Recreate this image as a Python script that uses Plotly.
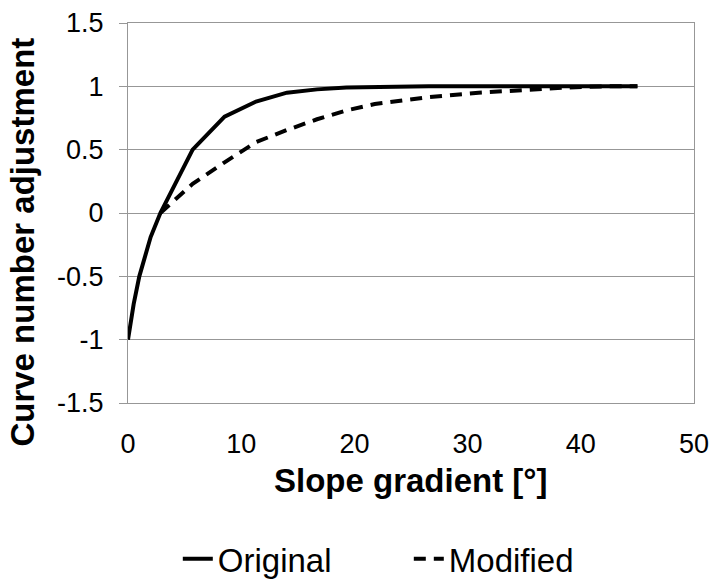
import plotly.graph_objects as go

# Data
orig_x = [0, 0.5, 1.0, 1.5, 2.0, 2.86, 5.71, 8.53, 11.31, 14.04, 16.7, 19.29, 21.8, 26.57, 30.96, 34.99, 38.66, 41.99, 45.0]
orig_y = [-1.0, -0.72, -0.5, -0.33, -0.19, 0.0, 0.5, 0.76, 0.88, 0.95, 0.976, 0.99, 0.995, 1.0, 1.0, 1.0, 1.0, 1.0, 1.0]

mod_x = [2.86, 5.71, 8.53, 11.31, 14.04, 16.7, 19.29, 21.8, 26.57, 30.96, 34.99, 38.66, 41.99, 45.0]
mod_y = [0.0, 0.23, 0.40, 0.56, 0.655, 0.74, 0.81, 0.86, 0.915, 0.95, 0.97, 0.99, 1.0, 1.0]

y_ticks = [1.5, 1, 0.5, 0, -0.5, -1, -1.5]
y_ticktext = ["1.5", "1", "0.5", "0", "-0.5", "-1", "-1.5"]
x_ticks = [0, 10, 20, 30, 40, 50]
x_ticktext = ["0", "10", "20", "30", "40", "50"]

FONT = "Liberation Sans, Arial, sans-serif"
GRID = "#979797"

fig = go.Figure()
fig.add_trace(go.Scatter(x=orig_x, y=orig_y, mode="lines", name="Original",
                         line=dict(color="black", width=4)))
fig.add_trace(go.Scatter(x=mod_x, y=mod_y, mode="lines", name="Modified",
                         line=dict(color="black", width=4, dash="12px,8px")))

fig.update_layout(
    width=713, height=580,
    margin=dict(l=128, r=19, t=23, b=177, autoexpand=False),
    plot_bgcolor="white", paper_bgcolor="white",
    font=dict(family=FONT, color="black"),
    xaxis=dict(range=[0, 50], tickvals=x_ticks, ticktext=x_ticktext,
               showgrid=False, zeroline=False, showline=True, mirror=True,
               linecolor=GRID, linewidth=1, ticks="", ticklabelstandoff=17,
               automargin=False,
               tickfont=dict(size=27, family=FONT, color="black")),
    xaxis2=dict(range=[0, 50], tickvals=x_ticks, overlaying="x", anchor="free",
                position=0.5, side="bottom", showgrid=False, zeroline=False,
                showline=True, linecolor=GRID, linewidth=1, ticks="outside",
                ticklen=8, tickcolor=GRID, showticklabels=False, automargin=False),
    yaxis=dict(range=[-1.5, 1.5], tickvals=y_ticks, ticktext=y_ticktext,
               showgrid=True, gridcolor=GRID, gridwidth=1, zeroline=False,
               showline=True, mirror=True, linecolor=GRID, linewidth=1,
               ticks="outside", ticklen=8, tickcolor=GRID, ticklabelstandoff=10,
               automargin=False,
               tickfont=dict(size=27, family=FONT, color="black")),
    showlegend=True,
    legend=dict(orientation="h", x=0.088, xanchor="left", y=-0.41, yanchor="middle",
                entrywidth=186, entrywidthmode="pixels",
                font=dict(size=33, family=FONT, color="black"),
                bgcolor="rgba(0,0,0,0)"),
    annotations=[
        dict(text="<b>Slope gradient [°]</b>", xref="paper", yref="paper",
             x=0.5, y=-0.203, xanchor="center", yanchor="middle", showarrow=False,
             font=dict(size=33, family=FONT, color="black")),
        dict(text="<b>Curve number adjustment</b>", xref="paper", yref="paper",
             x=-0.186, y=0.424, xanchor="center", yanchor="middle", showarrow=False,
             textangle=-90, font=dict(size=33, family=FONT, color="black")),
    ],
)

fig.write_html("out.html")
